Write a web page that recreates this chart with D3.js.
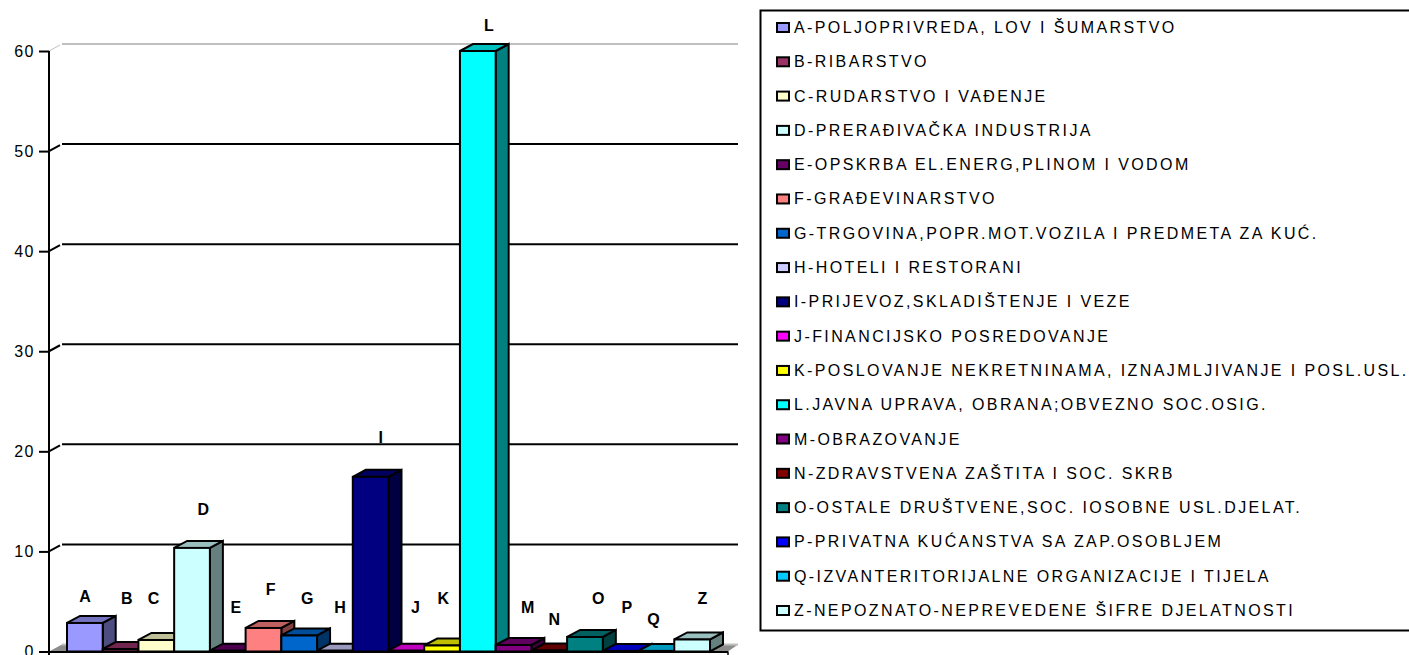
<!DOCTYPE html>
<html>
<head>
<meta charset="utf-8">
<script src="https://cdn.jsdelivr.net/npm/d3@7"></script>
<style>
  html, body { margin: 0; padding: 0; background: #fff; overflow: hidden; }
  text { font-family: "Liberation Sans", Arial, sans-serif; fill: #000; }
</style>
</head>
<body>
<div id="chart"></div>
<script>
const codes = ['A','B','C','D','E','F','G','H','I','J','K','L','M','N','O','P','Q','Z'];
const values = [2.85,0.25,1.15,10.35,0.08,2.35,1.6,0.08,17.45,0.08,0.6,60,0.65,0.1,1.45,0.06,0.06,1.2];
const colors = ['#9999ff','#993366','#ffffcc','#ccffff','#660066','#ff8080','#0066cc','#ccccff','#000080',
  '#ff00ff','#ffff00','#00ffff','#800080','#800000','#008080','#0000ff','#00ccff','#ccffff'];
const names = [
  'A-POLJOPRIVREDA, LOV I ŠUMARSTVO',
  'B-RIBARSTVO',
  'C-RUDARSTVO I VAĐENJE',
  'D-PRERAĐIVAČKA INDUSTRIJA',
  'E-OPSKRBA EL.ENERG,PLINOM I VODOM',
  'F-GRAĐEVINARSTVO',
  'G-TRGOVINA,POPR.MOT.VOZILA I PREDMETA ZA KUĆ.',
  'H-HOTELI I RESTORANI',
  'I-PRIJEVOZ,SKLADIŠTENJE I VEZE',
  'J-FINANCIJSKO POSREDOVANJE',
  'K-POSLOVANJE NEKRETNINAMA, IZNAJMLJIVANJE I POSL.USL.',
  'L.JAVNA UPRAVA, OBRANA;OBVEZNO SOC.OSIG.',
  'M-OBRAZOVANJE',
  'N-ZDRAVSTVENA ZAŠTITA I SOC. SKRB',
  'O-OSTALE DRUŠTVENE,SOC. IOSOBNE USL.DJELAT.',
  'P-PRIVATNA KUĆANSTVA SA ZAP.OSOBLJEM',
  'Q-IZVANTERITORIJALNE ORGANIZACIJE I TIJELA',
  'Z-NEPOZNATO-NEPREVEDENE ŠIFRE DJELATNOSTI'
];
// label height in axis units, the labels float at odd spots in the original
const labelLevels = [5.5,5.35,5.35,14.25,4.45,6.25,5.35,4.45,21.4,4.45,5.35,62.6,4.45,3.25,5.35,4.45,3.25,5.35];
// label x shift from the bar's left edge, px
const labelShift = [18,24,15,29,26,25,26,23,28,27,19,29,32,23,31,24,15,28];
const yTicks = [0,10,20,30,40,50,60];

const width = 1409, height = 655;
const depthX = 13, depthY = 7;
const axisX = 49, plotLeft = 67, plotRight = 710;

const svg = d3.select('#chart').append('svg')
  .attr('width', width).attr('height', height)
  .style('display', 'block');

const y = d3.scaleLinear().domain([0, 60]).range([651.5, 51]);
const x = d3.scaleBand().domain(codes).range([plotLeft, plotRight]).padding(0);

// shade a colour for the top and side faces
const shade = (c, k) => {
  const o = d3.rgb(c);
  return d3.rgb(o.r * k, o.g * k, o.b * k).formatHex();
};

// floor
svg.append('path')
  .attr('d', `M${axisX},${y(0)}L${axisX + depthX},${y(0) - depthY}L${738},${y(0) - depthY}L${728},${y(0)}Z`)
  .attr('fill', '#8c8c8c');

// gridlines with the short slanted bit off the axis
yTicks.forEach(t => {
  const gy = y(t);
  const top = t === 60, floor = t === 0;
  const col = top || floor ? '#c0c0c0' : '#000';
  svg.append('line')
    .attr('x1', axisX + depthX).attr('x2', 738)
    .attr('y1', gy - depthY).attr('y2', gy - depthY)
    .attr('stroke', col).attr('stroke-width', 2);
  if (!floor) {
    svg.append('line')
      .attr('x1', axisX).attr('x2', axisX + depthX - 2)
      .attr('y1', gy).attr('y2', gy - depthY + 1)
      .attr('stroke', col).attr('stroke-width', top ? 1 : 2);
  }
});

// bars
const bars = svg.append('g').selectAll('g')
  .data(codes.map((c, i) => ({ code: c, value: values[i], color: colors[i], i })))
  .join('g');

bars.each(function(d) {
  const g = d3.select(this);
  const x0 = x(d.code), x1 = x0 + x.bandwidth();
  const yt = y(d.value), yb = y(0);
  g.append('path')
    .attr('d', `M${x1},${yt}L${x1 + depthX},${yt - depthY}L${x1 + depthX},${yb - depthY}L${x1},${yb}Z`)
    .attr('fill', shade(d.color, 0.5)).attr('stroke', '#000').attr('stroke-width', 2);
  g.append('path')
    .attr('d', `M${x0},${yt}L${x0 + depthX},${yt - depthY}L${x1 + depthX},${yt - depthY}L${x1},${yt}Z`)
    .attr('fill', shade(d.color, 0.75)).attr('stroke', '#000').attr('stroke-width', 2);
  g.append('rect')
    .attr('x', x0).attr('y', yt)
    .attr('width', x1 - x0).attr('height', yb - yt)
    .attr('fill', d.color).attr('stroke', '#000').attr('stroke-width', 2);
});

// bar letters
svg.append('g').selectAll('text')
  .data(codes)
  .join('text')
  .attr('x', (d, i) => x(d) + labelShift[i])
  .attr('y', (d, i) => y(labelLevels[i]) + 6)
  .attr('text-anchor', 'middle')
  .style('font-size', '16px')
  .style('font-weight', 'bold')
  .text(d => d);

// axis, baseline, ticks
svg.append('line')
  .attr('x1', axisX).attr('x2', axisX).attr('y1', y(60)).attr('y2', height)
  .attr('stroke', '#000').attr('stroke-width', 2);
svg.append('line')
  .attr('x1', axisX - 10).attr('x2', 728).attr('y1', y(0) + 0.5).attr('y2', y(0) + 0.5)
  .attr('stroke', '#000').attr('stroke-width', 2);
svg.append('line')
  .attr('x1', 728).attr('x2', 728).attr('y1', y(0)).attr('y2', height)
  .attr('stroke', '#000').attr('stroke-width', 1.5);

const axisG = svg.append('g')
  .attr('transform', `translate(${axisX},0)`)
  .call(d3.axisLeft(y).tickValues(yTicks).tickSize(10).tickPadding(4).tickFormat(d3.format('d')));
axisG.select('.domain').remove();
axisG.selectAll('.tick line').attr('stroke', '#000').attr('stroke-width', 2);
axisG.selectAll('.tick text')
  .style('font-family', '"Liberation Sans", Arial, sans-serif')
  .style('font-size', '16px')
  .style('letter-spacing', '1.5px');

// legend
svg.append('rect')
  .attr('x', 760.5).attr('y', 10.5)
  .attr('width', 660).attr('height', 620)
  .attr('fill', '#fff').attr('stroke', '#000').attr('stroke-width', 2);

const rowY = d3.scalePoint().domain(codes).range([27.5, 610.5]);
const rows = svg.append('g').selectAll('g')
  .data(codes)
  .join('g')
  .attr('transform', d => `translate(0,${rowY(d)})`);
rows.append('rect')
  .attr('x', 777).attr('y', -4.5)
  .attr('width', 12).attr('height', 9)
  .attr('fill', (d, i) => colors[i])
  .attr('stroke', '#000').attr('stroke-width', 2);
rows.append('text')
  .attr('x', 794).attr('y', 5.5)
  .style('font-size', '16px')
  .style('letter-spacing', '2.4px')
  .text((d, i) => names[i]);
</script>
</body>
</html>
